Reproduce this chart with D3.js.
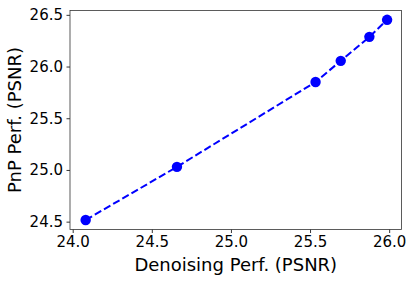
<!DOCTYPE html>
<html>
<head>
<meta charset="utf-8">
<script src="https://cdn.jsdelivr.net/npm/d3@7"></script>
<style>
	body { margin: 0; background: #fff; }
	svg { display: block; }
	.axis text { font-family: 'DejaVu Sans', sans-serif; font-size: 15px; fill: #000; }
	.axis-title { font-family: 'DejaVu Sans', sans-serif; font-size: 18px; fill: #000; }
</style>
</head>
<body>
<svg></svg>
<script>
// data
const denoising = [24.082, 24.659, 25.535, 25.694, 25.875, 25.987]
const pnp = [24.516, 25.03, 25.851, 26.055, 26.287, 26.452]
const xTicks = [24.0, 24.5, 25.0, 25.5, 26.0]
const yTicks = [24.5, 25.0, 25.5, 26.0, 26.5]

const rows = denoising.map((d, i) => ({ x: d, y: pnp[i] }))

const outerWidth = 415
const outerHeight = 281
const margin = { top: 10.5, right: 13.5, bottom: 51.5, left: 70 }
const width = outerWidth - margin.left - margin.right
const height = outerHeight - margin.top - margin.bottom

const svg = d3.select('svg')
	.attr('width', outerWidth)
	.attr('height', outerHeight)
.append('g')
	.attr('transform', `translate(${margin.left}, ${margin.top})`)

const x = d3.scaleLinear()
	.domain([23.983, 26.078])
	.range([0, width])

const y = d3.scaleLinear()
	.domain([24.424, 26.542])
	.range([height, 0])

const line = d3.line()
	.x(d => x(d.x))
	.y(d => y(d.y))

svg.append('g')
	.attr('class', 'axis axis--x')
	.attr('transform', `translate(0, ${height})`)
	.call(d3.axisBottom(x)
		.tickValues(xTicks)
		.tickFormat(d3.format('.1f'))
		.tickSize(3.5)
		.tickPadding(3.5)
	)

svg.append('g')
	.attr('class', 'axis axis--y')
	.call(d3.axisLeft(y)
		.tickValues(yTicks)
		.tickFormat(d3.format('.1f'))
		.tickSize(3.5)
		.tickPadding(3.5)
	)

svg.selectAll('.axis .domain').remove()
svg.selectAll('.axis line').attr('stroke', '#000').attr('stroke-width', 0.8)

// frame
svg.append('rect')
	.attr('width', width)
	.attr('height', height)
	.attr('fill', 'none')
	.attr('stroke', '#333')
	.attr('stroke-width', 0.8)

svg.append('path')
	.datum(rows)
	.attr('d', line)
	.attr('fill', 'none')
	.attr('stroke', '#0000ff')
	.attr('stroke-width', 2)
	.attr('stroke-dasharray', '7.4 3.2')

svg.selectAll('.dot')
	.data(rows)
	.enter().append('circle')
	.attr('class', 'dot')
	.attr('cx', d => x(d.x))
	.attr('cy', d => y(d.y))
	.attr('r', 5.2)
	.attr('fill', '#0000ff')

svg.append('text')
	.attr('class', 'axis-title')
	.attr('x', width / 2)
	.attr('y', height + 41)
	.style('text-anchor', 'middle')
	.text('Denoising Perf. (PSNR)')

svg.append('text')
	.attr('class', 'axis-title')
	.attr('transform', `translate(${-49}, ${height / 2}) rotate(-90)`)
	.style('text-anchor', 'middle')
	.text('PnP Perf. (PSNR)')
</script>
</body>
</html>
